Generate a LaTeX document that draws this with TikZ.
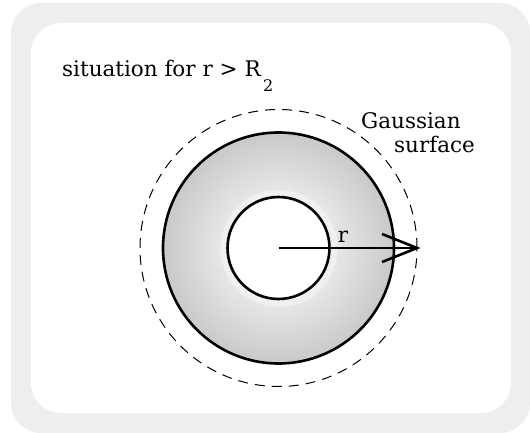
\documentclass[tikz,border=0pt]{standalone}
\usepackage{fontspec}
\setmainfont{DejaVu Serif}
\definecolor{bggray}{HTML}{EEEEEE}
\definecolor{halo}{HTML}{EFEFEF}
\definecolor{shin}{HTML}{E6E6E6}
\definecolor{shout}{HTML}{C9C9C9}
\pgfdeclareradialshading{shellshade}{\pgfpoint{0bp}{0bp}}{%
  color(0bp)=(white); color(12.6bp)=(halo); color(12.75bp)=(shin);
  color(25bp)=(shout); color(50bp)=(shout)}
\begin{document}
\begin{tikzpicture}[x=1pt,y=-1pt,
  txt/.style={font=\fontsize{21.5}{24}\selectfont, inner sep=0pt},
  ring/.style={line width=2.6pt, draw=black},
  gauss/.style={line width=1pt, dash pattern=on 10pt off 7pt},
  radline/.style={line width=2.6pt}]
\useasboundingbox (0,0) rectangle (530,433);
% background
\fill[bggray, rounded corners=30pt] (11,3) rectangle (530,433);
\fill[white, rounded corners=30pt] (31,23) rectangle (511,413);
% geometry
\coordinate (c) at (278.5,248);
% shell
\shade[shading=shellshade] (c) circle[radius=115.5pt];
\draw[ring] (c) circle[radius=115.5pt];
\fill[white] (c) circle[radius=51pt];
\draw[ring] (c) circle[radius=51pt];
% gaussian surface
\draw[gauss] (c) circle[radius=138.5pt];
% radius arrow
\coordinate (tip) at (417,248);
\coordinate (barbU) at (382,234);
\coordinate (barbD) at (382,262);
\draw[radline] (c) -- (tip);
\draw[radline, line join=miter] (barbU) -- (tip) -- (barbD);
\node[txt, anchor=base] (rlab) at (343,242) {r};
% labels
\node[txt, anchor=base west] (title) at (62,77) {situation for r > R};
\node[font=\fontsize{16}{16}\selectfont, inner sep=0pt, anchor=base west] (sub) at (263,92) {2};
\node[txt, anchor=base west, align=left] (gs) at (361,153) {Gaussian\\\hspace*{33pt}surface};
\end{tikzpicture}
\end{document}
